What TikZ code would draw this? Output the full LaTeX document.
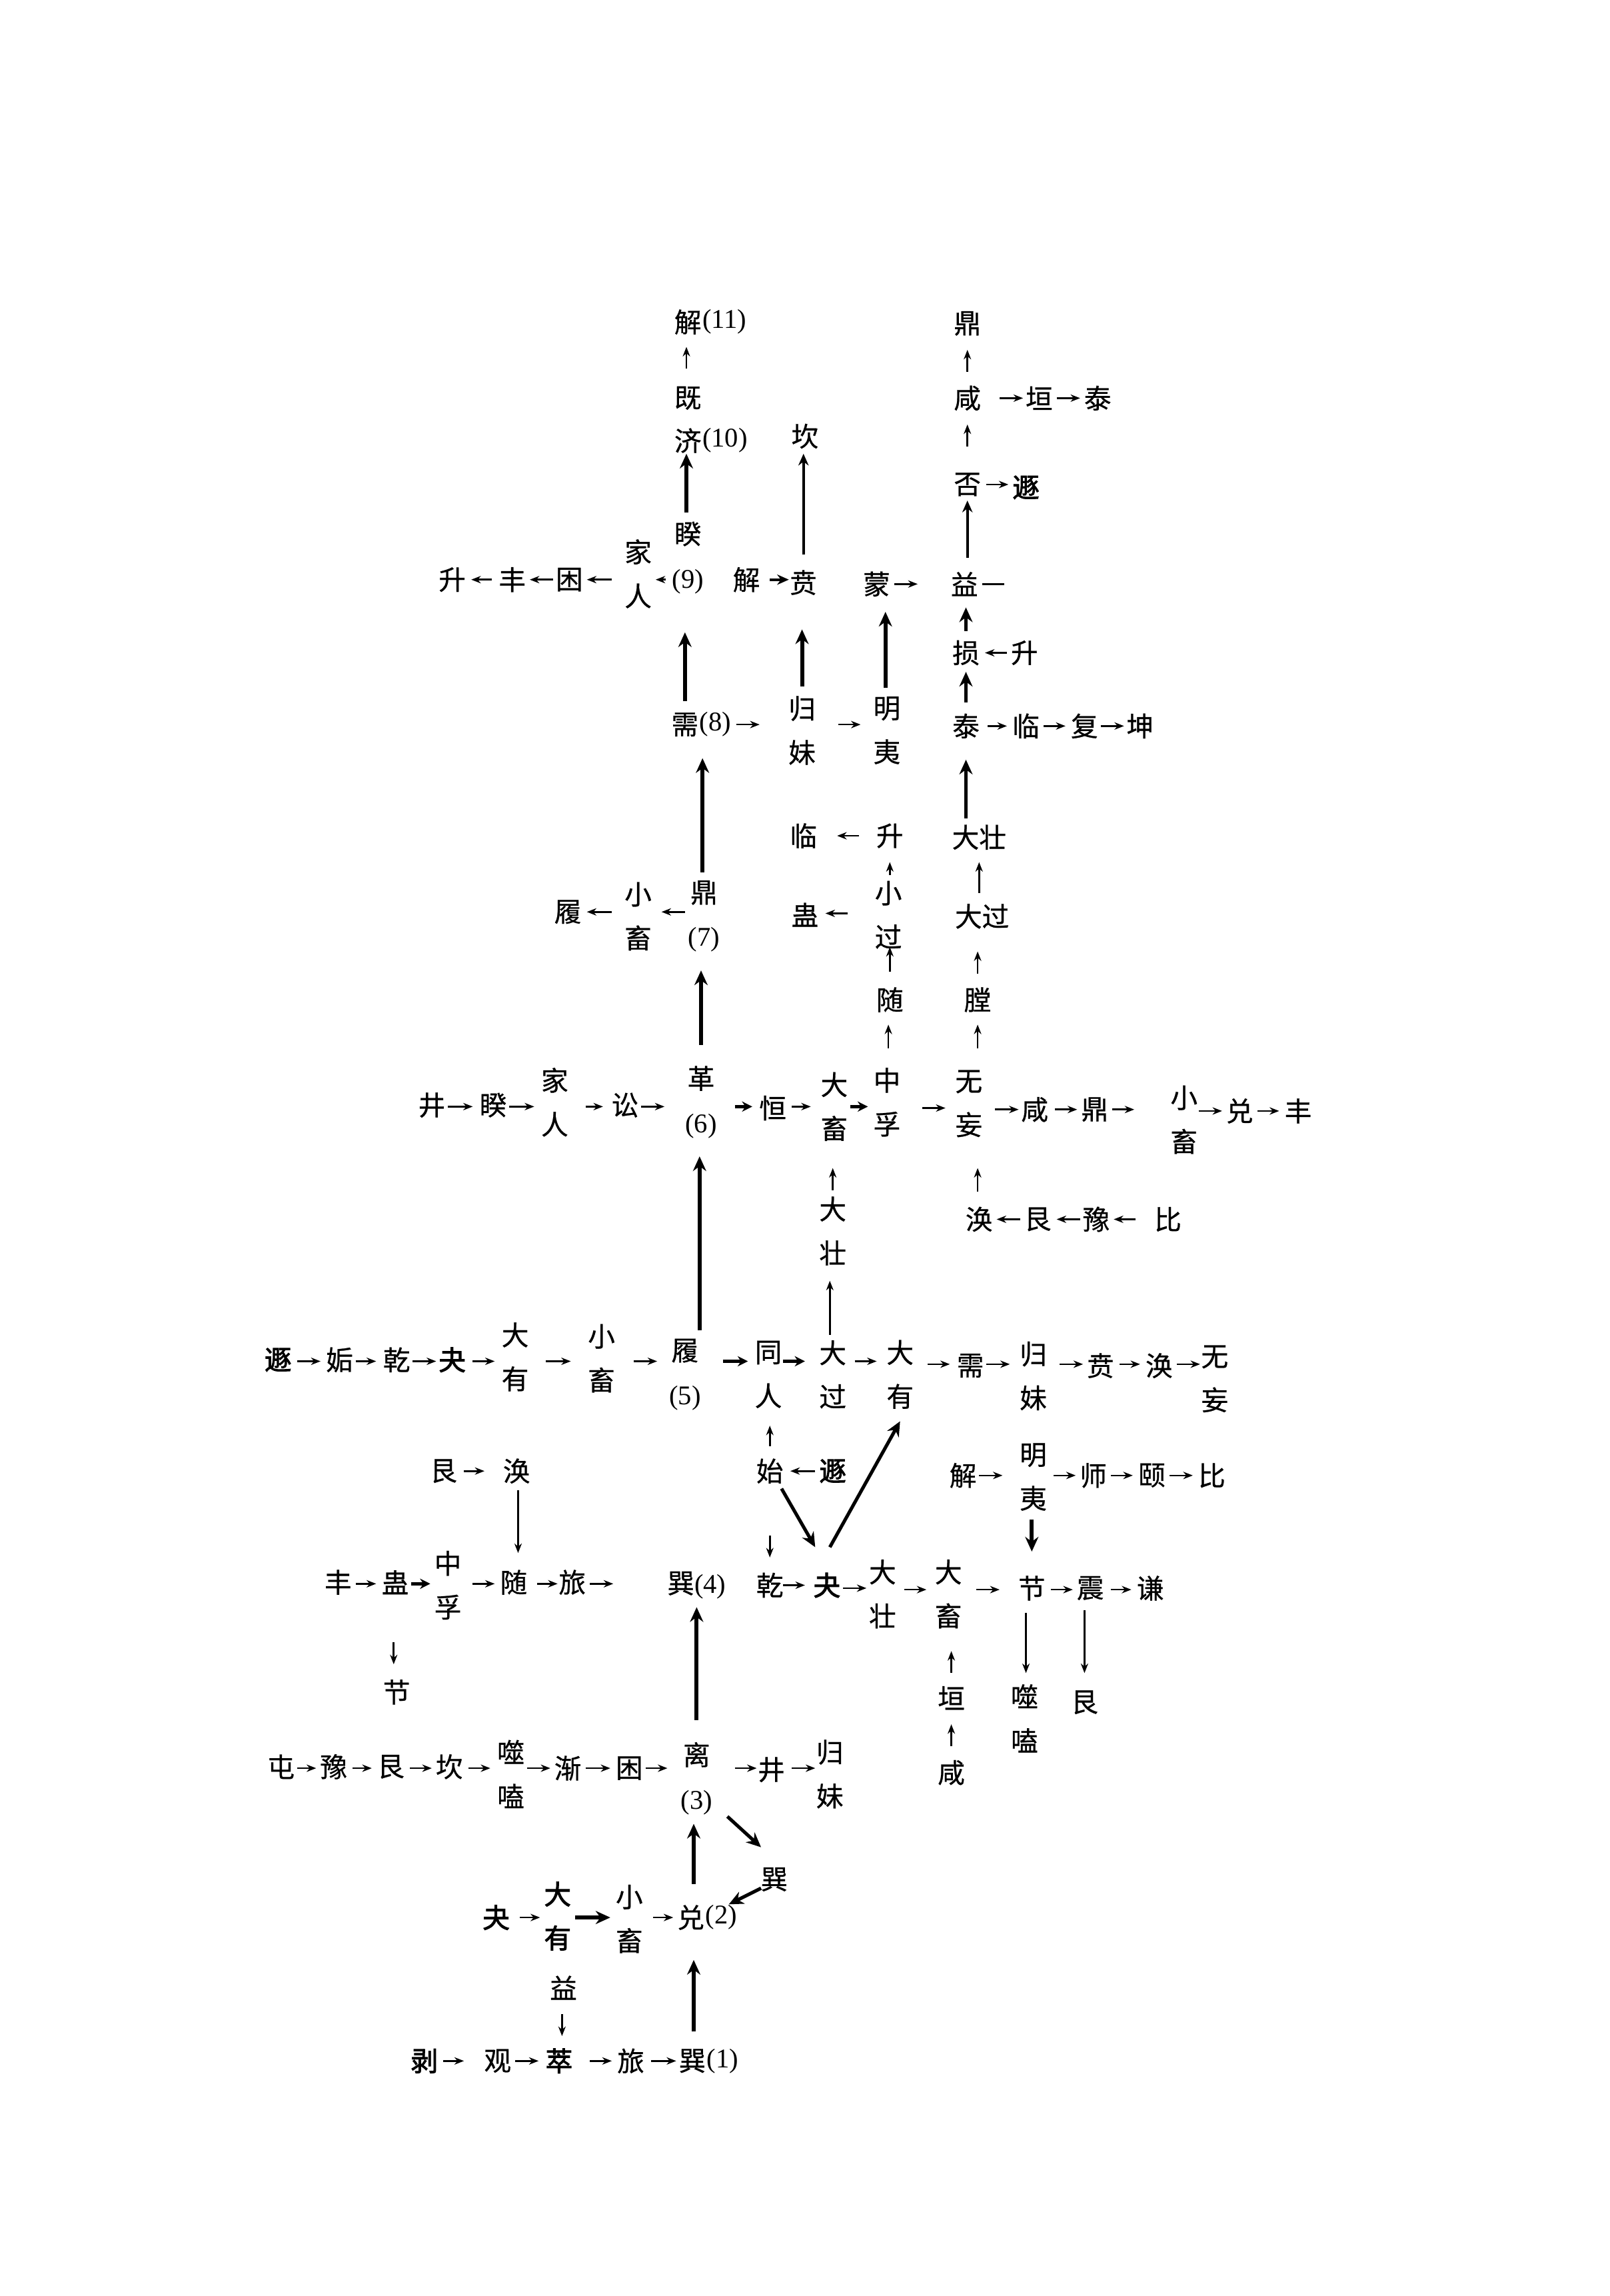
\documentclass[tikz,border=0pt]{standalone}
\usepackage{fontspec}
\newfontfamily\cjk[FakeBold=0.6]{Noto Sans CJK SC}
\newfontfamily\cjkb[FakeBold=2.2]{Noto Sans CJK SC}
\newfontfamily\lsf{Liberation Serif}
\usetikzlibrary{arrows.meta}
\newcommand\nb[1]{{\lsf #1}}
\newcommand\arh[6][]{\draw[thinarr,#1,shorten <=#5pt,shorten >=#6pt] (#2|-R#4) -- (#3|-R#4);}
\newcommand\arv[6][]{\draw[thinarr,#1,shorten <=#5pt,shorten >=#6pt] (#2-|C#4) -- (#3-|C#4);}
\begin{document}
\begin{tikzpicture}[x=1pt,y=-1pt,
  gua/.style={font=\cjk\fontsize{18.5}{30}\selectfont, inner sep=0pt, align=center},
  guab/.style={gua, font=\cjkb\fontsize{18.5}{30}\selectfont},
  numr/.style={label={[font=\lsf\fontsize{18.5}{20}\selectfont, inner sep=0.3pt]east:{(#1)}}},
  thinarr/.style={-{Stealth[length=6.5pt,width=5pt]}, line width=1.2pt},
  midarr/.style={-{Stealth[length=8pt,width=7pt]}, line width=1.9pt},
  hbold/.style={-{Stealth[length=7pt,width=7pt]}, line width=2.1pt},
  boldarr/.style={-{Stealth[length=10pt,width=9pt]}, line width=2.7pt},
  diagarr/.style={-{Stealth[length=10pt,width=9pt]}, line width=2.3pt}]
\fill[white] (0,0) rectangle (1100,1568.6);
\foreach \v in {272,331,396,399,446,495,496,571,623,624,756,757,758,759,833,930,932,1005,1008,1082,1083,1085,1086,1208,1310,1408}
  \coordinate (R\v) at (0,\v);
\foreach \v in {269,354,384,468,469,474,476,478,479,480,526,548,549,567,569,605,607,608,650,660,661,668,669,701,705,741}
  \coordinate (C\v) at (\v,0);
% ---------- top ----------
\node[gua,numr=11] (jieA) at (470,220) {解};
\node[gua] (jiji) at (470,272) {既};
\node[gua,numr=10] (jiB) at (470,301) {济};
\node[gua] (kan) at (550,298) {坎};
\node[gua] (kuiC) at (470,381) {睽\\\nb{(9)}};
\node[gua] (jiarenC) at (436,392) {家\\人};
\node[gua] (kunC) at (389,396) {困};
\node[gua] (fengC) at (350,396) {丰};
\node[gua] (shengC) at (309,396) {升};
\node[gua] (jieC) at (510,396) {解};
\node[gua] (biC) at (549,398) {贲};
\node[gua] (meng) at (599,399) {蒙};
\node[gua] (yiC) at (659,399) {益};
\coordinate (yiEnd) at (686,399);
\node[gua] (dingT) at (661,221) {鼎};
\node[gua] (xianT) at (661,272) {咸};
\node[gua] (hengT) at (710,272) {垣};
\node[gua] (taiT) at (750,272) {泰};
\node[gua] (pi) at (661,331) {否};
\node[guab] (dunT) at (701,333) {遯};
\node[gua] (sun) at (660,446) {损};
\node[gua] (shengS) at (700,446) {升};
\node[gua] (taiS) at (660,496) {泰};
\node[gua] (linS) at (701,496) {临};
\node[gua] (fuS) at (741,496) {复};
\node[gua] (kunS) at (779,496) {坤};
\node[gua,numr=8] (xuD) at (468,495) {需};
\node[gua] (guimeiD) at (548,499) {归\\妹};
\node[gua] (mingyiD) at (606,499) {明\\夷};
\node[gua] (linE) at (549,571) {临};
\node[gua] (shengE) at (608,571) {升};
\node[gua] (guE) at (550,625) {蛊};
\node[gua] (xiaoguoE) at (607,625) {小\\过};
\node[gua] (suiE) at (608,683) {随};
\node[gua] (dazhuangE) at (669,572) {大壮};
\node[gua] (daguoE) at (671,626) {大过};
\node[gua] (tang) at (668,683) {膛};
\node[gua] (dingE) at (481,626) {鼎\\\nb{(7)}};
\node[gua] (xiaoxuE) at (436,626) {小\\畜};
\node[gua] (lvE) at (388,623) {履};
% ---------- row 6 ----------
\node[gua] (jingF) at (295,755) {井};
\node[gua] (kuiF) at (337,755) {睽};
\node[gua] (jiarenF) at (379,753) {家\\人};
\node[gua] (songF) at (427,755) {讼};
\node[gua] (geF) at (479,753) {革\\\nb{(6)}};
\node[gua] (hengF) at (528,757) {恒};
\node[gua] (daxuF) at (570,756) {大\\畜};
\node[gua] (zhongfuF) at (606,753) {中\\孚};
\node[gua] (wuwangF) at (662,754) {无\\妄};
\node[gua] (xianF) at (707,758) {咸};
\node[gua] (dingF) at (748,758) {鼎};
\node[gua] (xiaoxuF) at (809,765) {小\\畜};
\node[gua] (duiF) at (847,759) {兑};
\node[gua] (fengF) at (887,759) {丰};
\node[gua] (dazhuangF) at (569,841) {大\\壮};
\node[gua] (huanF) at (669,833) {涣};
\node[gua] (genF) at (709,833) {艮};
\node[gua] (yuF) at (749,833) {豫};
\node[gua] (biF) at (798,833) {比};
% ---------- row 5 ----------
\node[guab] (dunG) at (190,929) {遯};
\node[gua] (gouG) at (232,929) {姤};
\node[gua] (qianG) at (271,929) {乾};
\node[guab] (guaiG) at (309,929) {夬};
\node[gua] (dayouG) at (352,927) {大\\有};
\node[gua] (xiaoxuG) at (411,928) {小\\畜};
\node[gua] (lvG) at (468,939) {履\\\nb{(5)}};
\node[gua] (tongrenG) at (525,939) {同\\人};
\node[gua] (daguoG) at (569,939) {大\\过};
\node[gua] (dayouH) at (615,939) {大\\有};
\node[gua] (xuG) at (663,933) {需};
\node[gua] (guimeiG) at (706,940) {归\\妹};
\node[gua] (biG) at (752,933) {贲};
\node[gua] (huanG) at (792,933) {涣};
\node[gua] (wuwangG) at (830,942) {无\\妄};
% ---------- row between 5 and 4 ----------
\node[gua] (genH) at (303,1005) {艮};
\node[gua] (huanH) at (353,1005) {涣};
\node[gua] (shiH) at (526,1005) {始};
\node[guab] (dunH) at (569,1005) {遯};
\node[gua] (jieH) at (658,1008) {解};
\node[gua] (mingyiH) at (706,1009) {明\\夷};
\node[gua] (shiH2) at (747,1008) {师};
\node[gua] (yiH) at (787,1008) {颐};
\node[gua] (biH) at (828,1008) {比};
% ---------- row 4 ----------
\node[gua] (fengI) at (231,1081) {丰};
\node[gua] (guI) at (270,1081) {蛊};
\node[gua] (zhongfuI) at (306,1083) {中\\孚};
\node[gua] (suiI) at (351,1081) {随};
\node[gua] (lvI) at (391,1081) {旅};
\node[gua] (xunI) at (476,1083) {巽\nb{(4)}};
\node[gua] (qianI) at (526,1083) {乾};
\node[guab] (guaiI) at (565,1083) {夬};
\node[gua] (dazhuangI) at (603,1089) {大\\壮};
\node[gua] (daxuI) at (648,1089) {大\\畜};
\node[gua] (jieI) at (705,1085) {节};
\node[gua] (zhenI) at (745,1085) {震};
\node[gua] (qianJ) at (786,1085) {谦};
\node[gua] (jieJ) at (271,1156) {节};
\node[gua] (hengJ) at (650,1160) {垣};
\node[gua] (xianJ) at (650,1211) {咸};
\node[gua] (shiheJ) at (700,1174) {噬\\嗑};
\node[gua] (genJ) at (741,1163) {艮};
% ---------- row 3 ----------
\node[gua] (tunK) at (192,1207) {屯};
\node[gua] (yuK) at (228,1207) {豫};
\node[gua] (genK) at (267,1207) {艮};
\node[gua] (kanK) at (307,1207) {坎};
\node[gua] (shiheK) at (349,1212) {噬\\嗑};
\node[gua] (jianK) at (388,1208) {渐};
\node[gua] (kunK) at (430,1208) {困};
\node[gua] (liK) at (476,1215) {离\\\nb{(3)}};
\node[gua] (jingK) at (527,1209) {井};
\node[gua] (guimeiK) at (567,1212) {归\\妹};
\node[gua] (xunK) at (529,1284) {巽};
% ---------- row 2 ----------
\node[guab] (guaiL) at (339,1310) {夬};
\node[guab] (dayouL) at (381,1309) {大\\有};
\node[gua] (xiaoxuL) at (430,1311) {小\\畜};
\node[gua,numr=2] (duiL) at (472,1310) {兑};
\node[gua] (yiL) at (385,1358) {益};
% ---------- row 1 ----------
\node[guab] (boM) at (290,1408) {剥};
\node[gua] (guanM) at (340,1408) {观};
\node[guab] (cuiM) at (382,1408) {萃};
\node[gua] (lvM) at (431,1408) {旅};
\node[gua,numr=1] (xunM) at (473,1408) {巽};
% ---------- horizontal connectors ----------
\arh{kuiC}{jiarenC}{396}{15}{12}
\arh{jiarenC}{kunC}{396}{18}{12}
\arh{kunC}{fengC}{396}{11}{12}
\arh{fengC}{shengC}{396}{14}{13}
\arh[midarr]{jieC}{biC}{396}{16}{10}
\arh{meng}{yiC}{399}{12}{32}
\draw[line width=1.2pt, shorten <=12pt] (yiC|-R399) -- (yiEnd);
\arh{xianT}{hengT}{272}{22}{11}
\arh{hengT}{taiT}{272}{12}{12}
\arh{pi}{dunT}{331}{13}{12}
\arh{shengS}{sun}{446}{12}{13}
\arh{taiS}{linS}{496}{15}{13}
\arh{linS}{fuS}{496}{12}{13}
\arh{fuS}{kunS}{496}{11}{11}
\arh{xuD}{guimeiD}{495}{35}{29}
\arh{guimeiD}{mingyiD}{495}{25}{18}
\arh{shengE}{linE}{571}{21}{23}
\arh{xiaoguoE}{guE}{624}{28}{14}
\arh{dingE}{xiaoxuE}{623}{13}{16}
\arh{xiaoxuE}{lvE}{623}{18}{13}
\arh{jingF}{kuiF}{756}{11}{14}
\arh{kuiF}{jiarenF}{756}{11}{14}
\arh{jiarenF}{songF}{756}{21}{15}
\arh{songF}{geF}{756}{11}{25}
\arh[hbold]{geF}{hengF}{756}{23}{14}
\arh{hengF}{daxuF}{756}{13}{16}
\arh[hbold]{daxuF}{zhongfuF}{756}{11}{13}
\arh{zhongfuF}{wuwangF}{757}{24}{16}
\arh{wuwangF}{xianF}{758}{18}{11}
\arh{xianF}{dingF}{758}{14}{12}
\arh{dingF}{xiaoxuF}{758}{12}{34}
\arh{xiaoxuF}{duiF}{759}{10}{12}
\arh{duiF}{fengF}{759}{12}{13}
\arh{genF}{huanF}{833}{12}{12}
\arh{yuF}{genF}{833}{11}{13}
\arh{biF}{yuF}{833}{22}{12}
\arh{dunG}{gouG}{930}{13}{13}
\arh{gouG}{qianG}{930}{11}{14}
\arh{qianG}{guaiG}{930}{11}{11}
\arh{guaiG}{dayouG}{930}{14}{14}
\arh{dayouG}{xiaoxuG}{930}{21}{21}
\arh{xiaoxuG}{lvG}{930}{22}{19}
\arh[hbold]{lvG}{tongrenG}{930}{26}{14}
\arh[hbold]{tongrenG}{daguoG}{930}{10}{19}
\arh{daguoG}{dayouH}{930}{15}{16}
\arh{dayouH}{xuG}{932}{19}{14}
\arh{xuG}{guimeiG}{932}{11}{16}
\arh{guimeiG}{biG}{932}{18}{12}
\arh{biG}{huanG}{932}{13}{13}
\arh{huanG}{wuwangG}{932}{12}{10}
\arh{genH}{huanH}{1005}{14}{22}
\arh{dunH}{shiH}{1005}{12}{14}
\arh{jieH}{mingyiH}{1008}{11}{21}
\arh{mingyiH}{shiH2}{1008}{14}{12}
\arh{shiH2}{yiH}{1008}{12}{13}
\arh{yiH}{biH}{1008}{12}{13}
\arh{fengI}{guI}{1082}{12}{13}
\arh[hbold]{guI}{zhongfuI}{1082}{11}{12}
\arh{zhongfuI}{suiI}{1082}{17}{13}
\arh{suiI}{lvI}{1082}{16}{10}
\arh{lvI}{xunI}{1082}{12}{57}
\arh{qianI}{guaiI}{1083}{9}{15}
\arh{guaiI}{dazhuangI}{1085}{11}{11}
\arh{dazhuangI}{daxuI}{1086}{15}{15}
\arh{daxuI}{jieI}{1086}{19}{22}
\arh{jieI}{zhenI}{1086}{13}{12}
\arh{zhenI}{qianJ}{1086}{14}{13}
\arh{tunK}{yuK}{1208}{11}{12}
\arh{yuK}{genK}{1208}{13}{13}
\arh{genK}{kanK}{1208}{13}{12}
\arh{kanK}{shiheK}{1208}{13}{14}
\arh{shiheK}{jianK}{1208}{11}{12}
\arh{jianK}{kunK}{1208}{12}{13}
\arh{kunK}{liK}{1208}{11}{20}
\arh{liK}{jingK}{1208}{26}{10}
\arh{jingK}{guimeiK}{1208}{14}{10}
\arh{guaiL}{dayouL}{1310}{16}{12}
\arh[boldarr]{dayouL}{xiaoxuL}{1310}{12}{13}
\arh{xiaoxuL}{duiL}{1310}{16}{12}
\arh{boM}{guanM}{1408}{13}{23}
\arh{guanM}{cuiM}{1408}{12}{14}
\arh{cuiM}{lvM}{1408}{21}{13}
\arh{lvM}{xunM}{1408}{14}{11}
% ---------- vertical connectors ----------
\arv{jiji}{jieA}{469}{20}{17}
\arv[boldarr]{kuiC}{jiB}{469}{31}{9}
\arv[midarr]{biC}{kan}{549}{19}{12}
\arv{xianT}{dingT}{661}{18}{18}
\arv{pi}{xianT}{661}{26}{18}
\arv[midarr]{yiC}{pi}{661}{18}{11}
\arv[boldarr]{sun}{yiC}{660}{15}{16}
\arv[boldarr]{taiS}{sun}{660}{16}{13}
\arv[boldarr]{dazhuangE}{taiS}{660}{13}{23}
\arv{daguoE}{dazhuangE}{669}{16}{17}
\arv{tang}{daguoE}{668}{18}{24}
\arv{wuwangF}{tang}{668}{38}{17}
\arv[boldarr]{xuD}{kuiC}{468}{16}{51}
\arv[boldarr]{guimeiD}{biC}{548}{30}{32}
\arv[boldarr]{mingyiD}{meng}{605}{29}{19}
\arv{xiaoguoE}{shengE}{608}{27}{18}
\arv{suiE}{xiaoguoE}{608}{19}{22}
\arv{zhongfuF}{suiE}{607}{37}{17}
\arv[boldarr]{dingE}{xuD}{480}{30}{23}
\arv[boldarr]{geF}{dingE}{479}{39}{37}
\arv{dazhuangF}{daxuF}{569}{28}{42}
\arv{huanF}{wuwangF}{668}{19}{44}
\arv[boldarr]{lvG}{geF}{478}{30}{37}
\arv{daguoG}{dazhuangF}{567}{27}{34}
\arv{shiH}{tongrenG}{526}{17}{35}
\arv{shiH}{qianI}{526}{44}{19}
\arv{huanH}{suiI}{354}{13}{20}
\arv[boldarr]{mingyiH}{jieI}{705}{29}{25}
\arv{guI}{jieJ}{269}{41}{19}
\arv{jieI}{shiheJ}{701}{17}{31}
\arv{zhenI}{genJ}{741}{15}{20}
\arv{hengJ}{daxuI}{650}{17}{39}
\arv{xianJ}{hengJ}{650}{18}{18}
\arv[boldarr]{liK}{xunI}{476}{40}{15}
\arv[boldarr]{duiL}{liK}{474}{23}{31}
\arv[boldarr]{xunM}{duiL}{474}{20}{29}
\arv{yiL}{cuiM}{384}{18}{17}
% ---------- diagonal connectors ----------
\draw[diagarr] ([shift={(8,12)}]shiH.center) -- ([shift={(-8,-26)}]guaiI.center);
\draw[diagarr] ([shift={(2,-26)}]guaiI.center) -- ([shift={(0,32)}]dayouH.center);
\draw[diagarr] ([shift={(21,26)}]liK.center) -- ([shift={(-9,-22)}]xunK.center);
\draw[diagarr] ([shift={(-9,6)}]xunK.center) -- ([shift={(26,-9)}]duiL.center);
\end{tikzpicture}
\end{document}
